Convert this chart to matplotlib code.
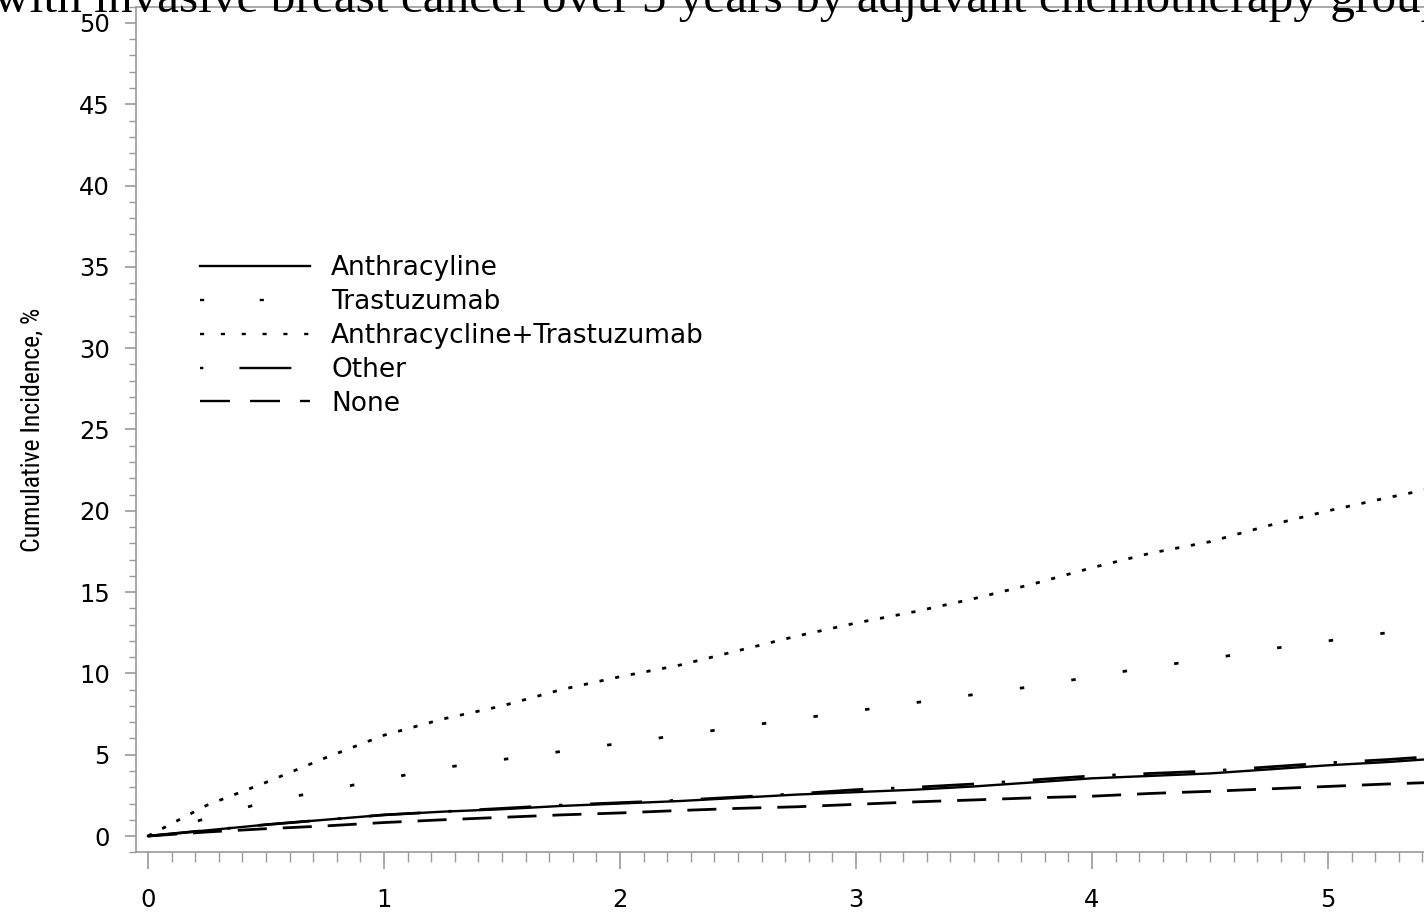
import matplotlib
matplotlib.use("Agg")
import matplotlib.pyplot as plt
from matplotlib.lines import Line2D
from matplotlib.ticker import MultipleLocator

# Follow-up time (years)
years = [0.0, 0.25, 0.5, 0.75, 1.0, 1.25, 1.5, 1.75, 2.0, 2.25, 2.5, 2.75,
         3.0, 3.25, 3.5, 3.75, 4.0, 4.25, 4.5, 4.75, 5.0, 5.25, 5.45]

# Cumulative incidence (%) by adjuvant chemotherapy group
anthracycline = [0.0, 0.35, 0.7, 1.0, 1.3, 1.5, 1.65, 1.85, 2.0, 2.15, 2.35, 2.55,
                 2.7, 2.85, 3.05, 3.3, 3.55, 3.7, 3.85, 4.1, 4.35, 4.55, 4.75]
trastuzumab = [0.0, 1.1, 2.1, 2.8, 3.5, 4.2, 4.7, 5.2, 5.7, 6.2, 6.7, 7.2,
               7.7, 8.2, 8.7, 9.2, 9.8, 10.4, 10.9, 11.5, 12.0, 12.5, 12.9]
anthra_trastuzumab = [0.0, 1.9, 3.3, 4.8, 6.2, 7.2, 8.0, 9.0, 9.8, 10.5, 11.4, 12.3,
                      13.1, 13.8, 14.6, 15.5, 16.5, 17.4, 18.1, 19.1, 20.0, 20.8, 21.4]
other = [0.0, 0.35, 0.7, 1.0, 1.3, 1.5, 1.7, 1.9, 2.05, 2.2, 2.4, 2.6,
         2.85, 3.0, 3.2, 3.45, 3.7, 3.85, 4.0, 4.25, 4.5, 4.7, 4.9]
no_chemo = [0.0, 0.25, 0.45, 0.62, 0.83, 1.0, 1.15, 1.3, 1.42, 1.57, 1.7, 1.8,
            1.95, 2.1, 2.22, 2.35, 2.45, 2.62, 2.75, 2.9, 3.05, 3.2, 3.3]

labels = ["Anthracyline", "Trastuzumab", "Anthracycline+Trastuzumab", "Other", "None"]
title_text = "with invasive breast cancer over 5 years by adjuvant chemotherapy group"
ylabel_text = "Cumulative Incidence, %"

plt.rcParams["lines.scale_dashes"] = False

W, H = 1424, 913
fig = plt.figure(figsize=(W / 100, H / 100), dpi=100)

# axes geometry in pixels
px_per_year = 236.0
x0_px = 148.0
xmin, xmax = -0.05, 5.6
left_px = x0_px + xmin * px_per_year
right_px = x0_px + xmax * px_per_year
bottom_px, top_px = 852.3, 6.7
ax = fig.add_axes([left_px / W, 1 - bottom_px / H,
                   (right_px - left_px) / W, (bottom_px - top_px) / H])
ax.set_xlim(xmin, xmax)
ax.set_ylim(-1, 51)

lw = 2.0
styles = [
    dict(linestyle="-", lw=1.7),
    dict(linestyle=(0, (3.2, 34.3)), lw=lw),
    dict(linestyle=(0, (3.0, 8.5)), lw=lw),
    dict(linestyle=(0, (37.4, 20.0, 2.4, 20.0)), lw=lw),
    dict(linestyle=(0, (20.9, 11.5)), lw=lw),
]
series = [anthracycline, trastuzumab, anthra_trastuzumab, other, no_chemo]
for vals, st in zip(series, styles):
    ax.plot(years, vals, color="black", **st)

# legend handles
leg_styles = [
    "-",
    (0, (3.0, 40.0)),
    (0, (3.0, 12.0)),
    (0, (2.4, 26.0, 37.4, 40.0)),
    (0, (21.6, 14.4)),
]
handles = [Line2D([], [], color="black", lw=1.7, linestyle=s) for s in leg_styles]
leg_fs = 19
ax.legend(handles, labels, loc="upper left", frameon=False,
          bbox_to_anchor=(200 / W, 1 - 255 / H), bbox_transform=fig.transFigure,
          borderpad=0, borderaxespad=0, handlelength=110 / (leg_fs * 100 / 72),
          handletextpad=0.8, labelspacing=0.3,
          prop=dict(family="DejaVu Sans", size=leg_fs))

# axis styling
spine_col = "#9a9a9a"
for s in ax.spines.values():
    s.set_color(spine_col)
    s.set_linewidth(1.2)

ax.xaxis.set_major_locator(MultipleLocator(1))
ax.xaxis.set_minor_locator(MultipleLocator(0.1))
ax.yaxis.set_major_locator(MultipleLocator(5))
ax.yaxis.set_minor_locator(MultipleLocator(1))
ax.tick_params(axis="x", which="major", length=12, width=1.2, color=spine_col,
               pad=14, labelsize=17.5)
ax.tick_params(axis="x", which="minor", length=7, width=1.0, color=spine_col)
ax.tick_params(axis="y", which="major", length=8, width=1.2, color=spine_col,
               pad=11, labelsize=17.5)
ax.tick_params(axis="y", which="minor", length=5, width=1.0, color=spine_col)
for t in ax.get_xticklabels() + ax.get_yticklabels():
    t.set_family("DejaVu Sans")

fig.text(33 / W, 1 - 430 / H, ylabel_text, rotation=90, ha="center", va="center",
         fontsize=18.5, fontstretch="condensed",
         family=["Roboto Condensed", "Liberation Sans Narrow", "Roboto", "DejaVu Sans"])

# heading (runs past the top edge)
fig.text(-6 / W, 1 - 12 / H, title_text, ha="left", va="baseline",
         fontsize=35.5, family=["Liberation Serif", "DejaVu Serif"])

fig.savefig("out.png", dpi=100)
